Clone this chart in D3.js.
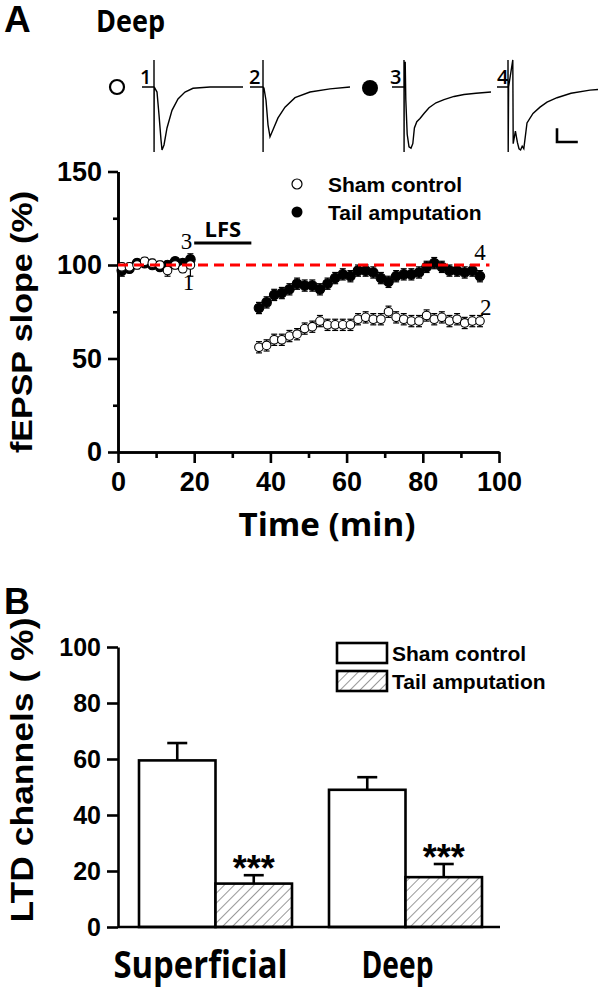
<!DOCTYPE html>
<html><head><meta charset="utf-8">
<script src="https://cdn.jsdelivr.net/npm/d3@7"></script>
<style>body{margin:0;background:#fff}</style>
</head><body>
<svg id="c" width="600" height="991" xmlns="http://www.w3.org/2000/svg"></svg>
<script>
// ---------- DATA (panel A: time course) ----------
const baseTimes = [1,3,5,7,9,11,13,15,17,19];
const shamBase  = [99,99,100,102,101,100,97,100,98,100];
const shamBaseErr = [2,2,2,2,2,2,3,2,2,6];
const tailBase  = [97,98,101,101,100,99,100,102,101,103];
const tailBaseErr = [3,2,2,2,2,2,2,2,2,2];
const postTimes = [37,39,41,43,45,47,49,51,53,55,57,59,61,63,65,67,69,71,73,75,77,79,81,83,85,87,89,91,93,95];
const shamPost = [56,57,60,60,62,63,66,67,70,68,68,68,68,71,72,71,71,75,72,71,70,70,73,71,72,70,71,69,70,70];
const shamPostErr = [3,3,3,3,3,3,3,3,3,3,3,3,3,3,3,3,3,3,3,3,3,3,3,3,3,3,3,3,3,3];
const tailPost = [77,80,84,85,87,90,89,89,87,90,93,95,94,97,97,96,93,91,94,95,95,96,99,101,99,97,97,96,97,94];
const tailPostErr = [3,3,3,3,3,3,3,3,3,3,3,3,3,3,3,3,3,3,3,3,3,3,3,3,3,3,3,3,3,3];
const lfsWindow = [20, 35];
const baselineLevel = 100;
const dashEnd = 97.5;
const yTicksA = [0,50,100,150];
const yMinorA = [25,75,125];
const xTicksA = [0,20,40,60,80,100];
const xMinorA = [10,30,50,70,90];
const seriesNames = ["Sham control","Tail amputation"];

// example traces [ms, mV relative]
const trace1 = [[-3,0],[0,0],[0,0.43],[0.02,-1.03],[0.05,0],[0.75,-0.08],[1.25,-0.44],[1.75,-0.84],[2.0,-1.0],[2.5,-0.92],[3.25,-0.65],[4.5,-0.37],[6,-0.19],[7.75,-0.08],[9.75,-0.02],[14,0],[22.25,0]];
const trace2 = [[-3.25,0],[0,0],[0,0.43],[0.02,-1.03],[0.05,0],[0.25,-0.02],[0.75,-0.21],[1.25,-0.6],[1.75,-0.79],[2.5,-0.68],[3.75,-0.49],[5.5,-0.32],[8,-0.17],[11.75,-0.08],[16.75,-0.03],[21.75,0]];
const trace3 = [[-3,0],[0,0],[0,0.43],[0.02,-1.03],[0.05,0],[0.3,0.4],[0.45,-0.2],[0.8,-0.75],[1.25,-0.95],[1.75,-0.97],[2.2,-0.9],[2.6,-0.65],[3.2,-0.55],[4,-0.5],[5,-0.42],[6.25,-0.33],[8,-0.25],[10,-0.2],[12.5,-0.15],[15,-0.12],[18,-0.1],[21.75,-0.08]];
const trace4 = [[-3.5,0],[-0.75,0],[-0.75,0.43],[-0.7,-1.03],[-0.6,0],[0.45,0.43],[0.55,-0.9],[1.1,-0.7],[1.6,-0.88],[2.0,-0.98],[2.4,-1.0],[2.8,-0.94],[3.2,-0.98],[4,-0.57],[5.5,-0.42],[7.25,-0.32],[9,-0.24],[11.5,-0.17],[15,-0.1],[19.75,-0.05],[21.75,-0.04]];
const traceLabels = ["1","2","3","4"];

// ---------- DATA (panel B: bars) ----------
const groups = ["Superficial","Deep"];
const shamVals = [59.5, 49.0];
const shamErr  = [6.2, 4.5];
const tailVals = [15.5, 17.8];
const tailErr  = [3.0, 4.7];
const yTicksB = [0,20,40,60,80,100];
const sigLabel = "***";

// ---------- DRAW ----------
const svg = d3.select("#c");
const ARIAL = "'Liberation Sans', Arial, sans-serif";
const OPEN = "'Open Sans', 'Liberation Sans', sans-serif";
const SERIF = "'Liberation Serif', 'Times New Roman', serif";

const defs = svg.append("defs");
const pat = defs.append("pattern").attr("id","hatch").attr("patternUnits","userSpaceOnUse")
  .attr("width",7).attr("height",7).attr("patternTransform","rotate(45)");
pat.append("rect").attr("width",7).attr("height",7).attr("fill","#fff");
pat.append("line").attr("x1",0).attr("y1",0).attr("x2",0).attr("y2",7).attr("stroke","#444").attr("stroke-width",1.1);

// titles
svg.append("text").attr("x",4).attr("y",32).text("A")
  .attr("font-family",ARIAL).attr("font-weight","bold").attr("font-size",37);
svg.append("text").attr("x",96).attr("y",32).text("Deep")
  .attr("font-family",OPEN).attr("font-weight","bold").attr("font-size",31)
  .attr("textLength",69).attr("lengthAdjust","spacingAndGlyphs");

// ---- traces ----
const tx = d3.scaleLinear().domain([0,1]).range([0,4]);
const ty = d3.scaleLinear().domain([0,-1]).range([0,63]);
const traceOrigins = [154,263,404,511];
const traceBase = 87;
const traceLine = d3.line().x(d=>tx(d[0])).y(d=>ty(d[1]));
[trace1,trace2,trace3,trace4].forEach((tr,i)=>{
  const g = svg.append("g").attr("transform",`translate(${traceOrigins[i]},${traceBase})`);
  g.append("path").attr("d",traceLine(tr)).attr("fill","none").attr("stroke","#000").attr("stroke-width",1.4);
  g.append("text").attr("x",tx(-2.1)).attr("y",-3).attr("text-anchor","middle").text(traceLabels[i])
    .attr("font-family",OPEN).attr("font-weight","600").attr("font-size",20);
});
svg.append("circle").attr("cx",117).attr("cy",87).attr("r",7).attr("fill","#fff").attr("stroke","#000").attr("stroke-width",2.2);
svg.append("circle").attr("cx",370).attr("cy",88).attr("r",8).attr("fill","#000");
// scale bar
const sbx = 557, sby = 142;
svg.append("path").attr("d",`M${sbx},${sby-ty(-0.22)}V${sby}H${sbx+tx(5.2)}`)
  .attr("fill","none").attr("stroke","#000").attr("stroke-width",2.6);

// ---- panel A chart ----
const xA = d3.scaleLinear().domain([0,100]).range([118,499]);
const yA = d3.scaleLinear().domain([0,150]).range([452,171.5]);

const styleAxis = (g, fs)=>{
  g.selectAll("path.domain").attr("stroke","#000").attr("stroke-width",2.6);
  g.selectAll(".tick line").attr("stroke","#000").attr("stroke-width",2.6);
  g.selectAll("text").attr("font-family",ARIAL).attr("font-weight","bold").attr("font-size",fs).attr("fill","#000");
};
const gyA = svg.append("g").attr("transform","translate(118,0)")
  .call(d3.axisLeft(yA).tickValues(yTicksA).tickSize(10).tickSizeOuter(0).tickPadding(6));
styleAxis(gyA,27);
const gyAm = svg.append("g").attr("transform","translate(118,0)")
  .call(d3.axisLeft(yA).tickValues(yMinorA).tickSize(5).tickSizeOuter(0).tickFormat(""));
styleAxis(gyAm,27);
const gxA = svg.append("g").attr("transform","translate(0,452)")
  .call(d3.axisBottom(xA).tickValues(xTicksA).tickSize(11).tickSizeOuter(0).tickPadding(9));
styleAxis(gxA,27);
const gxAm = svg.append("g").attr("transform","translate(0,452)")
  .call(d3.axisBottom(xA).tickValues(xMinorA).tickSize(6).tickSizeOuter(0).tickFormat(""));
styleAxis(gxAm,27);

svg.append("text").attr("transform","translate(32,322) rotate(-90)").attr("text-anchor","middle")
  .text("fEPSP slope (%)").attr("font-family",ARIAL).attr("font-weight","bold").attr("font-size",30)
  .attr("textLength",262).attr("lengthAdjust","spacingAndGlyphs");
svg.append("text").attr("x",327).attr("y",536).attr("text-anchor","middle")
  .text("Time (min)").attr("font-family",OPEN).attr("font-weight","bold").attr("font-size",33)
  .attr("textLength",177).attr("lengthAdjust","spacingAndGlyphs");

// LFS bar
svg.append("line").attr("x1",xA(lfsWindow[0])).attr("x2",xA(lfsWindow[1])).attr("y1",243).attr("y2",243)
  .attr("stroke","#000").attr("stroke-width",3);
svg.append("text").attr("x",(xA(lfsWindow[0])+xA(lfsWindow[1]))/2).attr("y",237).attr("text-anchor","middle")
  .text("LFS").attr("font-family",OPEN).attr("font-weight","bold").attr("font-size",22);

// series
function drawSeries(times, vals, errs, filled){
  const g = svg.append("g");
  times.forEach((t,i)=>{
    const cx = xA(t), v = vals[i], e = errs[i];
    g.append("line").attr("x1",cx).attr("x2",cx).attr("y1",yA(v-e)).attr("y2",yA(v+e)).attr("stroke","#000").attr("stroke-width",1.2);
    g.append("line").attr("x1",cx-3).attr("x2",cx+3).attr("y1",yA(v-e)).attr("y2",yA(v-e)).attr("stroke","#000").attr("stroke-width",1.2);
    g.append("line").attr("x1",cx-3).attr("x2",cx+3).attr("y1",yA(v+e)).attr("y2",yA(v+e)).attr("stroke","#000").attr("stroke-width",1.2);
  });
  g.selectAll("circle").data(times).join("circle")
    .attr("cx",d=>xA(d)).attr("cy",(d,i)=>yA(vals[i])).attr("r",filled?4.8:4.3)
    .attr("fill",filled?"#000":"#fff").attr("stroke","#000").attr("stroke-width",1.1);
}
drawSeries(baseTimes, tailBase, tailBaseErr, true);
drawSeries(postTimes, tailPost, tailPostErr, true);
drawSeries(baseTimes, shamBase, shamBaseErr, false);
drawSeries(postTimes, shamPost, shamPostErr, false);

// dashed baseline
svg.append("line").attr("x1",xA(0)).attr("x2",xA(dashEnd)).attr("y1",yA(baselineLevel)).attr("y2",yA(baselineLevel))
  .attr("stroke","#ff0000").attr("stroke-width",3).attr("stroke-dasharray","10,6");

// in-plot labels
const numLab = (x,y,t)=>svg.append("text").attr("x",x).attr("y",y).attr("text-anchor","middle").text(t)
  .attr("font-family",SERIF).attr("font-size",23);
numLab(xA(18),249,"3");
numLab(xA(18.5),290,"1");
numLab(xA(95),260,"4");
numLab(xA(96.5),315,"2");

// legend A
svg.append("circle").attr("cx",297).attr("cy",184).attr("r",5).attr("fill","#fff").attr("stroke","#000").attr("stroke-width",1.2);
svg.append("circle").attr("cx",297).attr("cy",212).attr("r",5.5).attr("fill","#000");
svg.append("text").attr("x",328).attr("y",192).text(seriesNames[0]).attr("font-family",ARIAL).attr("font-weight","bold").attr("font-size",21);
svg.append("text").attr("x",328).attr("y",220).text(seriesNames[1]).attr("font-family",ARIAL).attr("font-weight","bold").attr("font-size",21);

// ---- panel B ----
svg.append("text").attr("x",4).attr("y",614).text("B")
  .attr("font-family",ARIAL).attr("font-weight","bold").attr("font-size",36);

const yB = d3.scaleLinear().domain([0,100]).range([927,647]);
const xB = d3.scaleBand().domain(groups).range([139,482]).paddingInner(37/190).paddingOuter(0);
const xSub = d3.scaleBand().domain(seriesNames).range([0,xB.bandwidth()]);

const gyB = svg.append("g").attr("transform","translate(118,0)")
  .call(d3.axisLeft(yB).tickValues(yTicksB).tickSize(11).tickSizeOuter(0).tickPadding(6));
styleAxis(gyB,25);

// bars
const barData = [];
groups.forEach((g,i)=>{
  barData.push({g, s:seriesNames[0], v:shamVals[i], e:shamErr[i]});
  barData.push({g, s:seriesNames[1], v:tailVals[i], e:tailErr[i]});
});
const bg = svg.append("g");
barData.forEach(d=>{
  const x0 = xB(d.g)+xSub(d.s), w = xSub.bandwidth(), cx = x0+w/2;
  bg.append("line").attr("x1",cx).attr("x2",cx).attr("y1",yB(d.v)).attr("y2",yB(d.v+d.e)).attr("stroke","#000").attr("stroke-width",2.6);
  bg.append("line").attr("x1",cx-10).attr("x2",cx+10).attr("y1",yB(d.v+d.e)).attr("y2",yB(d.v+d.e)).attr("stroke","#000").attr("stroke-width",2.6);
  bg.append("rect").attr("x",x0).attr("y",yB(d.v)).attr("width",w).attr("height",yB(0)-yB(d.v))
    .attr("fill",d.s===seriesNames[0]?"#fff":"url(#hatch)").attr("stroke","#000").attr("stroke-width",2.6);
  if(d.s===seriesNames[1]){
    bg.append("text").attr("x",cx).attr("y",yB(d.v+d.e)+6).attr("text-anchor","middle").text(sigLabel)
      .attr("font-family",ARIAL).attr("font-weight","bold").attr("font-size",36);
  }
});
svg.append("line").attr("x1",118).attr("x2",500).attr("y1",yB(0)).attr("y2",yB(0)).attr("stroke","#000").attr("stroke-width",2.6);

// group labels
groups.forEach((g,i)=>{
  svg.append("text").attr("x",xB(g)+xB.bandwidth()/2-(i===0?15:8)).attr("y",978).attr("text-anchor","middle").text(g)
    .attr("font-family",OPEN).attr("font-weight","bold").attr("font-size",37)
    .attr("textLength",i===0?174:72).attr("lengthAdjust","spacingAndGlyphs");
});
svg.append("text").attr("transform","translate(33,770) rotate(-90)").attr("text-anchor","middle")
  .text("LTD channels ( %)").attr("font-family",ARIAL).attr("font-weight","bold").attr("font-size",31)
  .attr("textLength",305).attr("lengthAdjust","spacingAndGlyphs");

// legend B
[0,1].forEach(i=>{
  svg.append("rect").attr("x",337).attr("y",643+i*28).attr("width",50).attr("height",20)
    .attr("fill",i===0?"#fff":"url(#hatch)").attr("stroke","#000").attr("stroke-width",2.6);
  svg.append("text").attr("x",392).attr("y",661+i*28).text(seriesNames[i])
    .attr("font-family",ARIAL).attr("font-weight","bold").attr("font-size",21);
});
</script>
</body></html>
